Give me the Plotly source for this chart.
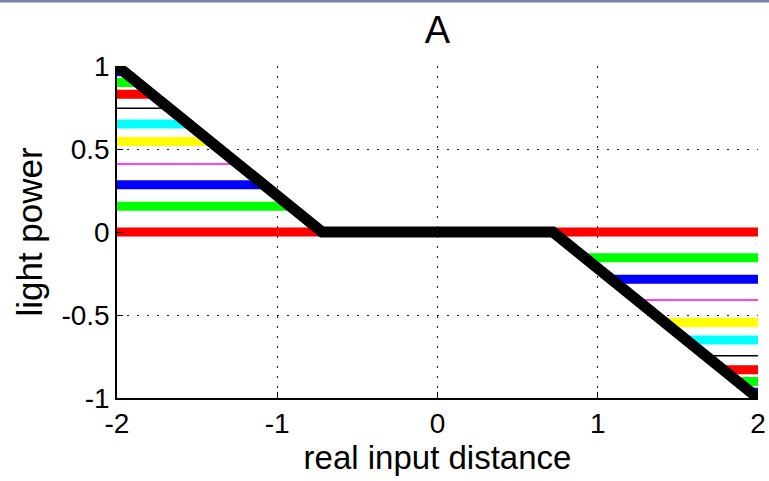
import plotly.graph_objects as go

# Saturation levels of each curve
levels = [0.0, 0.155, 0.285, 0.41, 0.545, 0.65, 0.745, 0.83, 0.90, 0.965, 1.0]
# |x| where each curve reaches its saturation level
kinks = [0.72, 0.92, 1.085, 1.245, 1.42, 1.55, 1.67, 1.78, 1.87, 1.95, 2.0]
dead_zone = 0.72
x_min, x_max = -2.0, 2.0
colors = ["#ff0000", "#00ff00", "#0000ff", "#ff00ff", "#ffff00", "#00ffff",
          "#000000", "#ff0000", "#00ff00", "#0000ff", "#000000"]
widths = [9, 9, 9, 1.5, 9, 9, 1.5, 9, 9, 9, 11]

x_ticks = [-2, -1, 0, 1, 2]
y_ticks = [-1, -0.5, 0, 0.5, 1]
y_tick_text = ["-1", "-0.5", "0", "0.5", "1"]

FONT = "Liberation Sans, Arial, Helvetica, sans-serif"

fig = go.Figure()
for lv, k, c, w in zip(levels, kinks, colors, widths):
    xs = [x_min, -k, -dead_zone, dead_zone, k, x_max]
    ys = [lv, lv, 0, 0, -lv, -lv]
    fig.add_trace(go.Scatter(x=xs, y=ys, mode="lines",
                             line=dict(color=c, width=w),
                             showlegend=False, hoverinfo="skip"))

grid = dict(showgrid=True, gridcolor="#222222", gridwidth=1,
            griddash="2px,8px", zeroline=False, automargin=False)

fig.update_layout(
    width=769, height=481,
    margin=dict(l=117, r=11, t=66, b=83),
    paper_bgcolor="white", plot_bgcolor="white",
    font=dict(family=FONT, color="black"),
    title=dict(text="A", x=0.5, xref="paper", xanchor="center",
               y=1 - 30 / 481, yref="container", yanchor="middle",
               font=dict(size=38, family=FONT, color="black")),
    xaxis=dict(range=[x_min, x_max], tickvals=x_ticks,
               ticktext=[str(t) for t in x_ticks],
               ticks="inside", ticklen=6, tickwidth=1.2, tickcolor="black",
               showline=True, linecolor="black", linewidth=1.5, mirror=False,
               tickfont=dict(size=28, family=FONT),
               title=dict(text="real input distance",
                          font=dict(size=33, family=FONT), standoff=6),
               **grid),
    yaxis=dict(range=[-1, 1], tickvals=y_ticks, ticktext=y_tick_text,
               ticks="inside", ticklen=6, tickwidth=1.2, tickcolor="black",
               showline=True, linecolor="black", linewidth=1.5, mirror=False,
               tickfont=dict(size=28, family=FONT),
               title=dict(text="light power",
                          font=dict(size=35, family=FONT), standoff=8),
               **grid),
    shapes=[dict(type="rect", xref="paper", yref="paper",
                 x0=-117 / 641, x1=1 + 11 / 641,
                 y0=1 + 63.5 / 332, y1=1 + 66 / 332,
                 line=dict(width=0), fillcolor="#7483a6", layer="above")],
)

fig.write_html("out.html",
               config={"displayModeBar": False},
               post_script="document.body.style.margin='0';"
                           "document.body.style.overflow='hidden';")
